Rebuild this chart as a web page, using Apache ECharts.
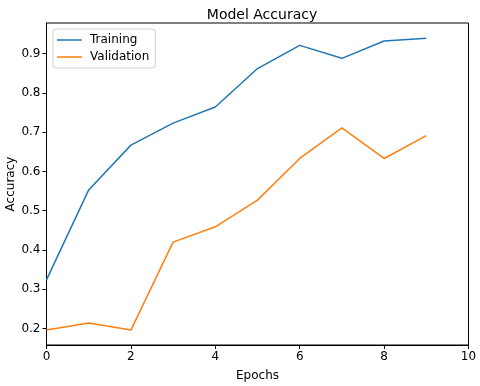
<!DOCTYPE html>
<html>
<head>
<meta charset="utf-8">
<script src="https://cdn.jsdelivr.net/npm/echarts@6/dist/echarts.min.js"></script>
<style>
  html, body { margin: 0; padding: 0; background: #fff; }
  #chart { width: 480px; height: 386px; }
</style>
</head>
<body>
<div id="chart"></div>
<script>
// epochs and accuracy
var epochs = [0, 1, 2, 3, 4, 5, 6, 7, 8, 9];
var training = [0.324, 0.553, 0.667, 0.723, 0.764, 0.862, 0.921, 0.888, 0.932, 0.939];
var validation = [0.196, 0.214, 0.196, 0.42, 0.459, 0.527, 0.633, 0.711, 0.633, 0.691];
var yTicks = [0.2, 0.3, 0.4, 0.5, 0.6, 0.7, 0.8, 0.9];

var chart = echarts.init(document.getElementById('chart'));
var font = 'DejaVu Sans';

function pairs(vals) {
    return vals.map(function(v, i) { return [epochs[i], v]; });
}

var option = {
    animation: false,
    textStyle: { fontFamily: font },
    title: {
        text: 'Model Accuracy',
        left: 257, top: 3, textAlign: 'center',
        textStyle: { fontFamily: font, fontSize: 14, fontWeight: 'normal', color: '#000' }
    },
    grid: {
        left: 46.5, right: 11.5, top: 23, bottom: 41,
        outerBoundsMode: 'none',
        containLabel: false,
        show: true, borderColor: '#000', borderWidth: 1, backgroundColor: '#fff'
    },
    legend: {
        orient: 'vertical',
        left: 53, top: 29,
        padding: [5, 6, 5, 4],
        itemGap: 5,
        icon: 'rect',
        itemWidth: 25, itemHeight: 1.5,
        backgroundColor: '#fff',
        borderColor: '#d0d0d0', borderWidth: 1, borderRadius: 3,
        textStyle: { fontFamily: font, fontSize: 12, color: '#000', padding: [0, 0, 0, 3] },
        data: ['Training', 'Validation']
    },
    xAxis: {
        type: 'value', min: 0, max: 10, interval: 2,
        name: 'Epochs', nameLocation: 'middle', nameGap: 25,
        nameMoveOverlap: false,
        nameTextStyle: { fontFamily: font, fontSize: 12, color: '#000' },
        axisLine: { show: true, lineStyle: { color: '#000', width: 1 } },
        axisTick: { show: true, inside: false, length: 4, lineStyle: { color: '#000' } },
        axisLabel: { fontFamily: font, fontSize: 12, color: '#000', margin: 6 },
        splitLine: { show: false }
    },
    yAxis: {
        type: 'value', min: 0.158, max: 0.978,
        name: 'Accuracy', nameLocation: 'middle', nameGap: 30,
        nameMoveOverlap: false,
        nameTextStyle: { fontFamily: font, fontSize: 12, color: '#000' },
        axisLine: { show: true, lineStyle: { color: '#000', width: 1 } },
        axisTick: { show: true, inside: false, length: 4, customValues: yTicks, lineStyle: { color: '#000' } },
        axisLabel: {
            fontFamily: font, fontSize: 12, color: '#000', margin: 6,
            customValues: yTicks,
            formatter: function(v) { return v.toFixed(1); }
        },
        splitLine: { show: false }
    },
    series: [{
        name: 'Training',
        type: 'line',
        data: pairs(training),
        symbol: 'none',
        lineStyle: { color: '#1f77b4', width: 1.5 },
        itemStyle: { color: '#1f77b4' }
    }, {
        name: 'Validation',
        type: 'line',
        data: pairs(validation),
        symbol: 'none',
        lineStyle: { color: '#ff7f0e', width: 1.5 },
        itemStyle: { color: '#ff7f0e' }
    }]
};
chart.setOption(option);
</script>
</body>
</html>
